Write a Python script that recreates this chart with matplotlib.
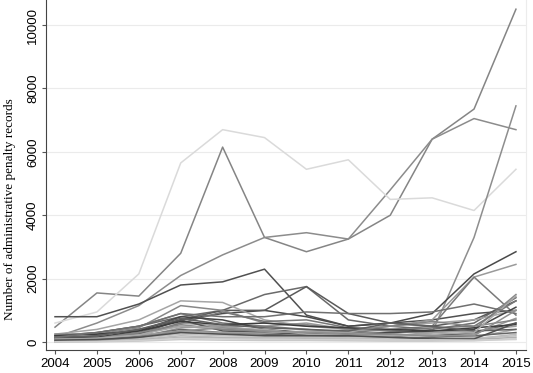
import matplotlib
matplotlib.use("Agg")
import matplotlib.pyplot as plt

years = list(range(2004, 2016))

# penalty records per region (one list per line)
s01 = [470, 1550, 1450, 2800, 6150, 3300, 2850, 3250, 4000, 6400, 7350, 10500]
s02 = [150, 600, 1150, 2100, 2750, 3300, 3450, 3250, 4800, 6400, 7050, 6700]
s03 = [600, 950, 2150, 5650, 6700, 6450, 5450, 5750, 4500, 4550, 4150, 5450]
s04 = [800, 800, 1200, 1800, 1900, 2300, 850, 500, 600, 700, 900, 1000]
s05 = [100, 150, 300, 500, 400, 300, 250, 200, 150, 300, 3300, 7450]
s06 = [50, 100, 300, 700, 900, 1000, 800, 500, 600, 900, 2150, 2850]
s07 = [100, 150, 250, 600, 500, 500, 600, 400, 500, 700, 2050, 2450]
s08 = [200, 300, 500, 900, 600, 500, 400, 300, 400, 500, 2050, 850]
s09 = [200, 300, 500, 800, 1000, 1500, 1750, 700, 500, 400, 600, 1400]
s10 = [100, 200, 400, 700, 1000, 1000, 1750, 900, 600, 500, 700, 1300]
s11 = [250, 400, 700, 1300, 1250, 700, 500, 400, 500, 600, 700, 1000]
s12 = [250, 250, 450, 1150, 1000, 600, 550, 400, 350, 300, 400, 1500]
s13 = [50, 80, 200, 600, 950, 650, 700, 450, 350, 450, 500, 1300]
s14 = [120, 150, 350, 800, 700, 400, 300, 250, 300, 350, 400, 1100]
s15 = [30, 60, 150, 450, 500, 350, 300, 200, 250, 200, 250, 750]
s16 = [80, 100, 250, 700, 350, 300, 250, 300, 250, 200, 300, 600]
s17 = [20, 40, 100, 300, 250, 200, 150, 150, 100, 100, 150, 400]
s18 = [10, 30, 80, 200, 150, 150, 120, 100, 100, 80, 100, 250]
s19 = [60, 90, 180, 400, 300, 250, 200, 180, 150, 150, 200, 300]
s20 = [40, 60, 120, 250, 200, 180, 160, 140, 120, 100, 120, 200]
s21 = [15, 25, 60, 150, 120, 100, 90, 80, 70, 60, 80, 150]
s22 = [200, 250, 350, 650, 550, 600, 500, 450, 400, 350, 450, 550]
s23 = [100, 120, 300, 550, 400, 350, 300, 350, 500, 650, 500, 700]
s24 = [70, 120, 220, 350, 300, 280, 350, 300, 200, 300, 350, 500]
s25 = [5, 10, 30, 80, 60, 50, 50, 40, 30, 30, 40, 100]
s26 = [150, 200, 400, 750, 550, 450, 400, 350, 600, 500, 350, 400]
s27 = [90, 110, 230, 500, 450, 400, 250, 200, 200, 250, 300, 1450]
s28 = [150, 300, 500, 900, 800, 800, 950, 900, 900, 950, 1200, 900]
s29 = [20, 50, 150, 350, 450, 350, 300, 250, 250, 200, 200, 1000]
s30 = [60, 80, 150, 300, 250, 200, 200, 200, 150, 100, 100, 600]
s31 = [10, 20, 50, 120, 100, 90, 80, 80, 70, 70, 60, 80]

series = [s01, s02, s03, s04, s05, s06, s07, s08, s09, s10, s11, s12, s13, s14, s15, s16,
          s17, s18, s19, s20, s21, s22, s23, s24, s25, s26, s27, s28, s29, s30, s31]

y_ticks = [0, 2000, 4000, 6000, 8000, 10000]

# grey shade for each line
grays = ["#858585", "#8c8c8c", "#dadada", "#505050", "#8e8e8e", "#4a4a4a", "#9a9a9a", "#7a7a7a",
         "#6a6a6a", "#5a5a5a", "#a5a5a5", "#888888", "#777777", "#444444", "#999999", "#555555",
         "#aaaaaa", "#bbbbbb", "#666666", "#c0c0c0", "#b0b0b0", "#3c3c3c", "#858585", "#9f9f9f",
         "#c8c8c8", "#606060", "#a8a8a8", "#707070", "#8f8f8f", "#4f4f4f", "#d0d0d0"]

fig = plt.figure(figsize=(5.33, 3.73), dpi=100)
ax = fig.add_axes([46 / 533, 23 / 373, 480 / 533, 350 / 373])

for vals, c in zip(series, grays):
    ax.plot(years, vals, color=c, lw=1.1)

ax.set_xlim(2003.785, 2015.24)
ax.set_ylim(-250, 10790)
ax.set_xticks(years)
ax.set_yticks(y_ticks)
ax.set_yticklabels([str(v) for v in y_ticks], rotation=90, va="center")
ax.grid(axis="y", color="#ebebeb", lw=0.8)
ax.set_axisbelow(True)

for lab in ax.get_xticklabels() + ax.get_yticklabels():
    lab.set_fontfamily("Liberation Sans")
    lab.set_fontsize(9.5)

ax.tick_params(axis="both", direction="out", length=3, width=0.8, color="#555555")
ax.tick_params(axis="x", pad=3)
ax.tick_params(axis="y", pad=2)

ax.spines["top"].set_visible(False)
ax.spines["right"].set_color("#ececec")
ax.spines["left"].set_color("#444444")
ax.spines["bottom"].set_color("#444444")

ax.set_ylabel("Number of administrative penalty records", family="Liberation Serif", fontsize=9.5)
ax.yaxis.label.set_va("center")
ax.yaxis.set_label_coords(-0.075, 0.403)

fig.savefig("out.png", dpi=100)
